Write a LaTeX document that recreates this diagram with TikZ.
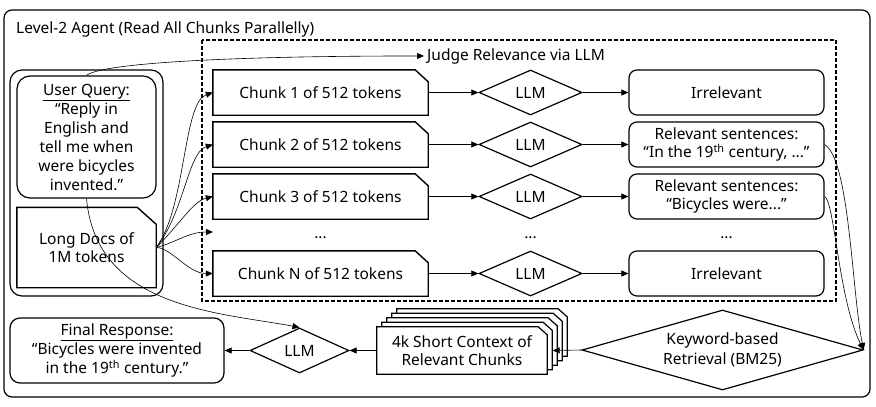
\documentclass[tikz,border=0pt]{standalone}
\usepackage{fontspec}
\setmainfont{Noto Sans}
\usetikzlibrary{shapes.geometric,arrows.meta,backgrounds}
\newcommand{\chpath}[4]{([shift={#4}]#1.south west) -- ([shift={#4}]#1.north west) -- ([shift={#4},xshift=-#2]#1.north east) -- ([shift={#4},yshift=-#3]#1.north east) -- ([shift={#4}]#1.south east) -- cycle}
\begin{document}
\begin{tikzpicture}[x=1pt,y=-1pt,
  every node/.style={font=\fontsize{15.5}{19}\selectfont},
  arr/.style={-{Triangle[length=7pt,width=6pt]}, line width=0.6pt},
  frame/.style={line width=1.2pt},
  chline/.style={line width=1.4pt},
  chbox/.style={draw=none, inner sep=0pt, align=center, minimum width=215pt, minimum height=45pt},
  rbox/.style={draw, line width=1.2pt, rounded corners=8pt, inner sep=0pt, align=center},
  dia/.style={draw, diamond, line width=1.2pt, inner sep=0pt, align=center},
  two/.style={font=\fontsize{15.5}{17.5}\selectfont},
]
\useasboundingbox (0,0) rectangle (876,407);
\draw[frame, rounded corners=8pt] (4,10) rectangle (870,397);
\node[anchor=base west, inner sep=0pt] (title) at (16,33) {Level-2 Agent (Read All Chunks Parallelly)};
\draw[frame, dash pattern=on 4pt off 2pt] (202,40) rectangle (836,301);
\node[anchor=base west, inner sep=0pt] (judge) at (427,60) {Judge Relevance via LLM};

% left group
\draw[frame, rounded corners=12pt] (10,70) rectangle (163,296);
\node[rbox, rounded corners=13pt, minimum width=139pt, minimum height=122pt] (q) at (86.5,137) {\underline{User Query:}\\“Reply in\\English and\\tell me when\\were bicycles\\invented.”};
\node[chbox, minimum width=139pt, minimum height=80pt, two] (docs) at (86.5,247.5) {Long Docs of\\1M tokens};
\draw[chline] \chpath{docs}{19pt}{17pt}{(0,0)};

% chunks
\node[chbox] (c1) at (320.5,92.5) {Chunk 1 of 512 tokens};
\node[chbox] (c2) at (320.5,144.5) {Chunk 2 of 512 tokens};
\node[chbox] (c3) at (320.5,196.5) {Chunk 3 of 512 tokens};
\node[chbox] (cN) at (320.5,273.5) {Chunk N of 512 tokens};
\foreach \n in {c1,c2,c3,cN} \draw[chline] \chpath{\n}{13pt}{12pt}{(0,0)};
\coordinate (dL) at (213,232);

% diamonds
\foreach \n/\y in {d1/92.5,d2/144.5,d3/196.5,dN/273.5}
  \node[dia, minimum width=103pt, minimum height=45pt] (\n) at (530.5,\y) {LLM};

% results
\node[rbox, minimum width=195pt, minimum height=45pt] (r1) at (726.5,92.5) {Irrelevant};
\node[rbox, minimum width=195pt, minimum height=45pt, two] (r2) at (726.5,144.5) {Relevant sentences:\\“In the 19\textsuperscript{th} century, ...”};
\node[rbox, minimum width=195pt, minimum height=45pt, two] (r3) at (726.5,196.5) {Relevant sentences:\\“Bicycles were...”};
\node[rbox, minimum width=195pt, minimum height=45pt] (rN) at (726.5,273.5) {Irrelevant};

% dots
\node[anchor=base, inner sep=0pt] (dotc) at (320.5,238) {...};
\node[anchor=base, inner sep=0pt] (dotd) at (530.5,238) {...};
\node[anchor=base, inner sep=0pt] (dotr) at (726.5,238) {...};

% bottom row
\node[rbox, rounded corners=10pt, minimum width=214pt, minimum height=65pt] (final) at (117,350.5) {\underline{Final Response:}\\“Bicycles were invented\\in the 19\textsuperscript{th} century.”};
\node[dia, minimum width=99pt, minimum height=45pt] (llmF) at (299.5,350.5) {LLM};
\node[chbox, minimum width=170pt, minimum height=47pt, two] (stack) at (462,350.5) {4k Short Context of\\Relevant Chunks};
\begin{scope}[on background layer]
  \foreach \k in {4,3,2,1} \draw[line width=1.2pt, fill=white] \chpath{stack}{9pt}{8pt}{(5*\k,-4.5*\k)};
  \draw[line width=1.2pt, fill=white] \chpath{stack}{9pt}{8pt}{(0,0)};
\end{scope}
\node[dia, aspect=3.5, minimum width=281pt, minimum height=80pt, font=\fontsize{15.5}{20}\selectfont] (bm) at (722.5,350) {Keyword-based\\Retrieval (BM25)};

% connectors rows
\foreach \i in {1,2,3,N} {
  \draw[arr] (c\i.east) -- (d\i.west);
  \draw[arr] (d\i.east) -- (r\i.west);
}
% fan
\draw[arr] (docs.east) .. controls +(30,-40) and +(-30,10) .. (c1.west);
\draw[arr] (docs.east) .. controls +(28,-35) and +(-25,8) .. (c2.west);
\draw[arr] (docs.east) .. controls +(25,-25) and +(-20,5) .. (c3.west);
\draw[arr] (docs.east) .. controls +(20,-5) and +(-25,0) .. (dL);
\draw[arr] (docs.east) .. controls +(15,0) and +(-25,0) .. (cN.west);
% query connectors
\draw[arr] (q.north) .. controls +(15,-12) and +(-200,0) .. ([xshift=-3pt]judge.west);
\draw[arr] (q.south) .. controls +(10,110) and +(-80,-15) .. (llmF.north);
% relevant to bm25
\draw[arr] (r2.east) .. controls +(25,15) and +(-12,-60) .. (bm.east);
\draw[arr] (r3.east) .. controls +(10,5) and +(-25,-50) .. (bm.east);
% bottom flow
\draw[arr] (bm.west) -- ([xshift=5.5pt]stack.east);
\draw[arr] (stack.west) -- (llmF.east);
\draw[arr] (llmF.west) -- (final.east);
\end{tikzpicture}
\end{document}
